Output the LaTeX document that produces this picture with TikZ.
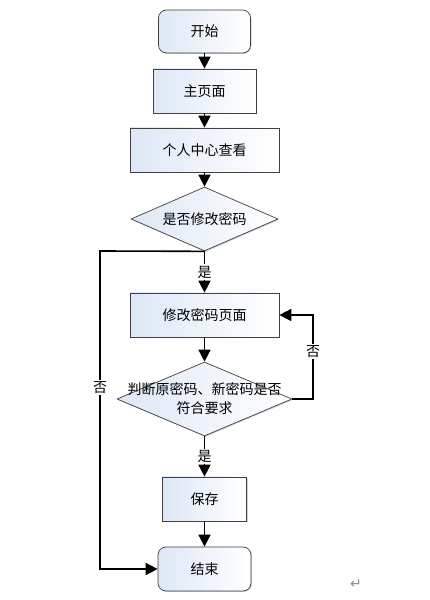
\documentclass[tikz,border=0pt]{standalone}
\usepackage{fontspec}
\setmainfont{Noto Sans CJK SC}
\newfontfamily\symfont{DejaVu Sans}
\usetikzlibrary{arrows.meta,shapes.geometric,shadows}
\definecolor{boxtint}{RGB}{222,231,246}
\begin{document}
\begin{tikzpicture}[x=1pt,y=1pt,
  font=\fontsize{14}{16}\selectfont,
  base/.style={draw=black!75, line width=0.7pt, left color=boxtint, right color=white,
     drop shadow={shadow xshift=1pt, shadow yshift=-1pt, opacity=0.35}, inner sep=2pt},
  procbox/.style={base, rectangle},
  termbox/.style={base, rectangle, rounded corners=8pt},
  decbox/.style={base, diamond, inner sep=0pt},
  arr/.style={line width=1.6pt, -{Triangle[length=12pt,width=12pt]}},
  lbl/.style={fill=white, inner sep=1.5pt}]
\useasboundingbox[fill=white] (0,0) rectangle (429,600);
\node[termbox, minimum width=92pt, minimum height=43pt] (start) at (204.5,568.5) {开始};
\node[procbox, minimum width=103pt, minimum height=44pt] (main) at (204.5,509) {主页面};
\node[procbox, minimum width=149pt, minimum height=44pt] (center) at (204.5,450) {个人中心查看};
\node[decbox, aspect=2.3, minimum width=147pt, minimum height=64pt] (d1) at (204.5,381) {是否修改密码};
\node[procbox, minimum width=149pt, minimum height=44pt] (mod) at (204.5,285) {修改密码页面};
\node[decbox, aspect=2.36, minimum width=175pt, minimum height=74pt,
  label={[align=center, font=\fontsize{14}{19}\selectfont]center:判断原密码、新密码是否\\符合要求}] (d2) at (204.5,201) {};
\node[procbox, minimum width=84pt, minimum height=44pt] (save) at (204.5,101) {保存};
\node[termbox, minimum width=93pt, minimum height=44pt] (end) at (204.5,31) {结束};
\node[text=black!45, font=\symfont\fontsize{14}{16}\selectfont] (ret) at (356,16) {↵};

\draw[arr] (start) -- (main);
\draw[arr] (main) -- (center);
\draw[arr] (center) -- (d1);
\draw[arr] (d1.south) -- node[lbl]{是} (mod.north);
\draw[arr] (mod) -- (d2);
\draw[arr] (d2.south) -- node[lbl]{是} (save.north);
\draw[arr] (save) -- (end);
\coordinate (L) at (100,349);
\coordinate (R) at (313,201);
\draw[arr] (d1.south) -- (L) -- node[lbl, pos=0.43]{否} (L |- end.west) -- (end.west);
\draw[arr] (d2.east) -- (R) -- node[lbl, pos=0.57]{否} (R |- mod.east) -- (mod.east);
\end{tikzpicture}
\end{document}
